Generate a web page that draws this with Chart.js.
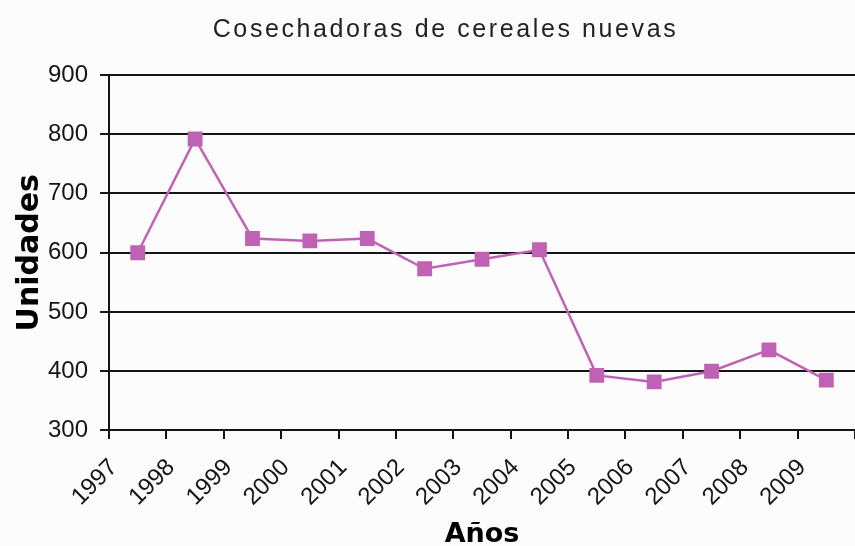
<!DOCTYPE html>
<html>
<head>
<meta charset="utf-8">
<script src="https://cdn.jsdelivr.net/npm/chart.js@4.4.1/dist/chart.umd.min.js"></script>
<style>
  html, body { margin: 0; padding: 0; background: #fcfcfc; }
  #wrap { width: 855px; height: 546px; }
</style>
</head>
<body>
<div id="wrap"><canvas id="myChart" width="855" height="546"></canvas></div>
<script>
var years = ['1997', '1998', '1999', '2000', '2001', '2002', '2003', '2004', '2005', '2006', '2007', '2008', '2009'];
var units = [600, 792, 624, 620, 624, 573, 589, 605, 393, 382, 400, 436, 385];
var yRange = [300, 900];
var yStep = 100;

var ink = '#151515';
var purple = '#c062b4';

// title is spaced out in the original (and sits a bit right of centre)
var spacedTitle = {
    id: 'spacedTitle',
    afterInit: function (chart) {
        var tb = chart.titleBlock;
        if (!tb) return;
        var draw = tb.draw;
        tb.draw = function () {
            var ctx = chart.ctx;
            ctx.save();
            ctx.letterSpacing = '2.6px';
            ctx.translate(12, 0);
            draw.apply(this, arguments);
            ctx.restore();
        };
    }
};

var ctx = document.getElementById('myChart');
var myChart = new Chart(ctx, {
    type: 'line',
    data: {
        labels: years,
        datasets: [{
            label: 'Unidades',
            data: units,
            borderColor: purple,
            backgroundColor: purple,
            borderWidth: 2.5,
            pointStyle: 'rect',
            pointRadius: 10.5,
            pointBorderWidth: 0,
            pointBackgroundColor: purple,
            tension: 0
        }]
    },
    options: {
        responsive: false,
        animation: false,
        layout: { autoPadding: false, padding: { left: 12, right: 0, top: 0, bottom: -5 } },
        plugins: {
            legend: { display: false },
            tooltip: { enabled: false },
            title: {
                display: true,
                text: 'Cosechadoras de cereales nuevas',
                color: '#222',
                font: { family: 'Liberation Sans', size: 25, weight: 'normal' },
                padding: { top: 15, bottom: 30 }
            }
        },
        scales: {
            x: {
                offset: true,
                // plot runs right to the edge like the original
                afterFit: function (scale) {
                    scale.paddingLeft = 0;
                    scale.paddingRight = 0;
                },
                // long tick line, only the first 8px shown, so the labels sit lower
                grid: { offset: true, drawOnChartArea: false, drawTicks: true, tickLength: 23, tickBorderDash: [8, 100], color: ink, lineWidth: 2 },
                border: { color: ink, width: 2 },
                ticks: {
                    autoSkip: false,
                    maxRotation: 45,
                    minRotation: 45,
                    labelOffset: -24,
                    padding: 0,
                    color: ink,
                    font: { family: 'Liberation Sans', size: 24 }
                },
                title: {
                    display: true,
                    text: 'Años',
                    color: '#000',
                    font: { family: 'DejaVu Sans', size: 27, weight: 'bold' },
                    padding: { top: 7, bottom: 0 }
                }
            },
            y: {
                min: yRange[0],
                max: yRange[1],
                ticks: {
                    stepSize: yStep,
                    padding: 0,
                    color: ink,
                    font: { family: 'Liberation Sans', size: 24 }
                },
                // same trick: only the 9px next to the axis are drawn
                grid: { color: ink, lineWidth: 2, tickLength: 21, tickBorderDash: [0, 12, 10, 100] },
                border: { color: ink, width: 2 },
                title: {
                    display: true,
                    text: 'Unidades',
                    color: '#000',
                    font: { family: 'DejaVu Sans', size: 30, weight: 'bold' },
                    padding: { top: 0, bottom: 0 }
                }
            }
        }
    },
    plugins: [spacedTitle]
});
</script>
</body>
</html>
